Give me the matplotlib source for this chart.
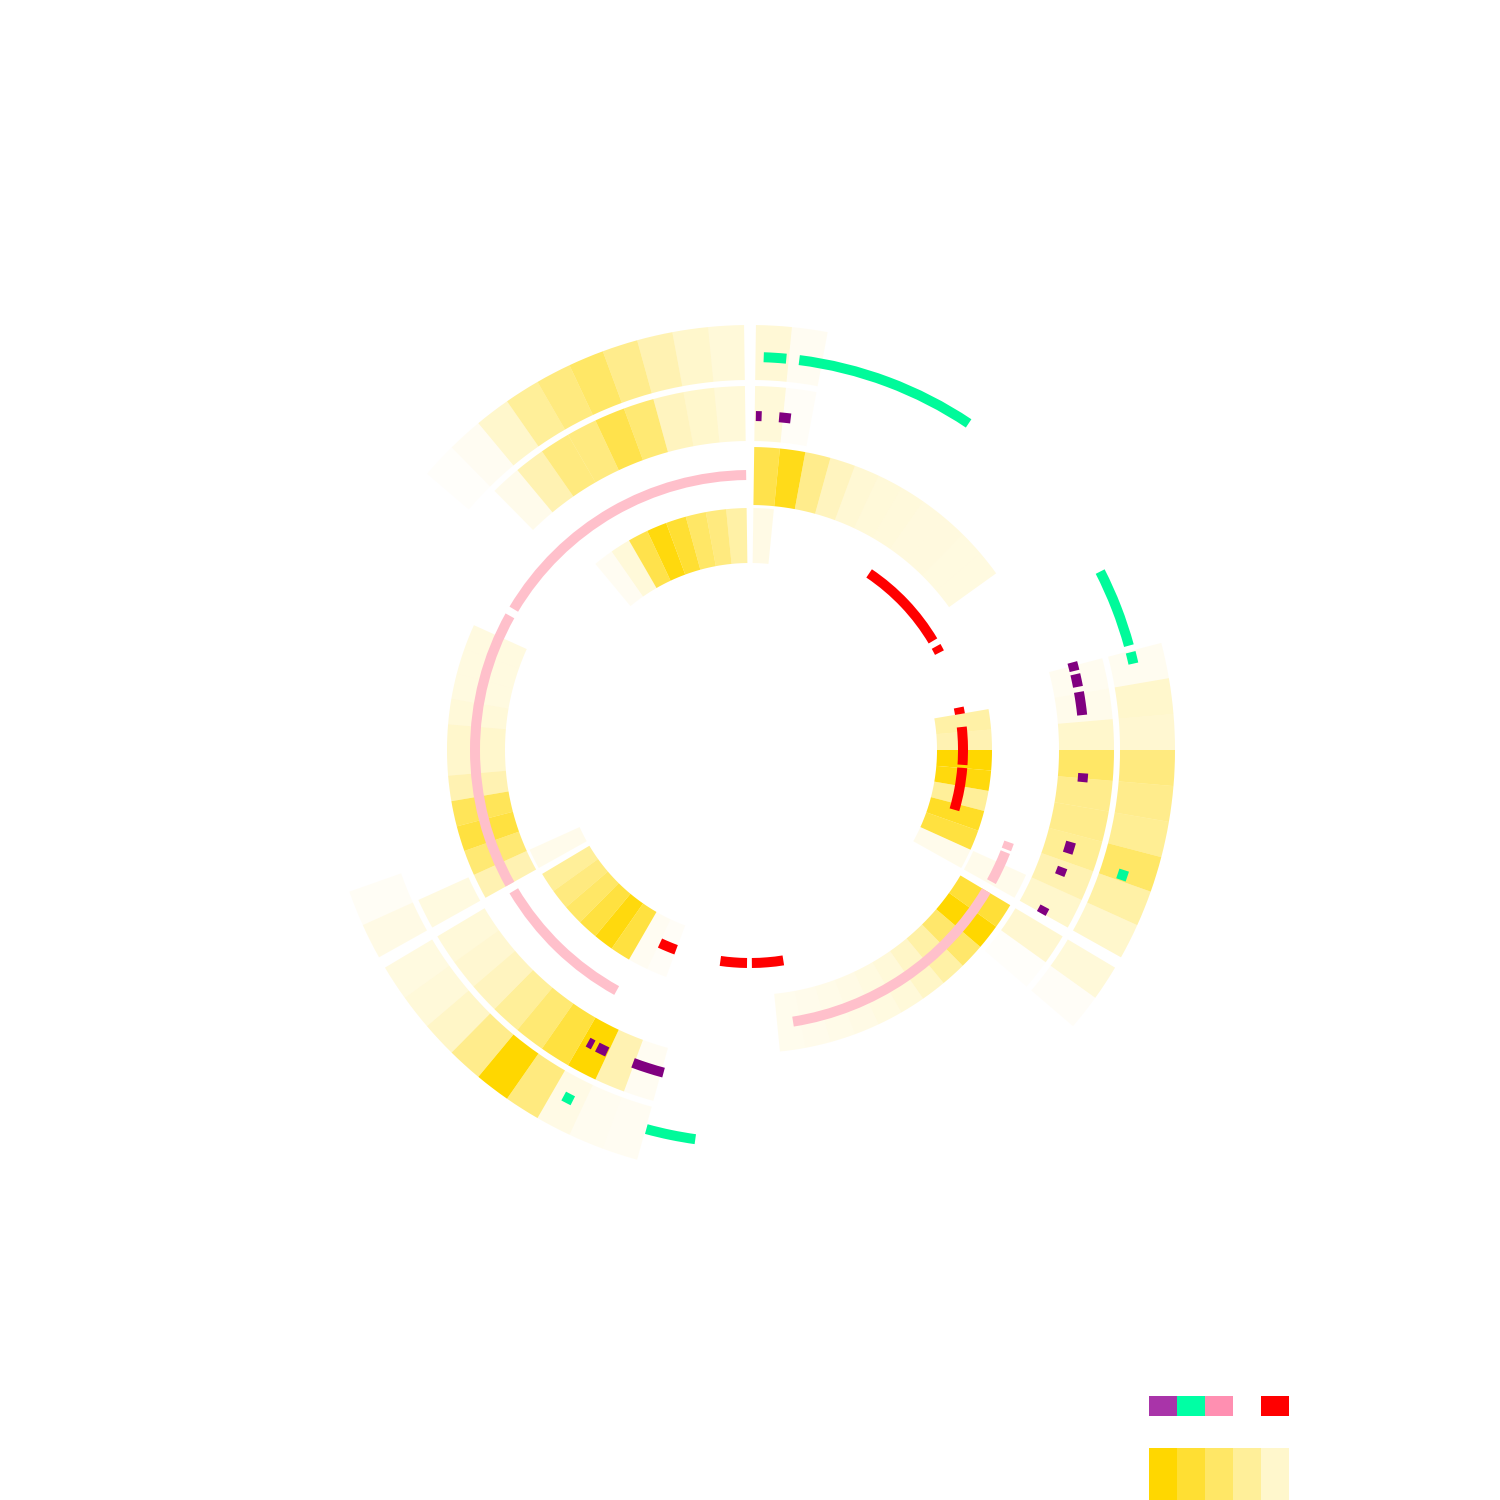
import numpy as np
import matplotlib
matplotlib.use('Agg')
import matplotlib.pyplot as plt
from matplotlib.patches import Rectangle

# six sectors, degrees clockwise from the top
sector_starts = [0, 60, 120, 180, 240, 300]
N = None

# heat rings (inner -> outer), 12 cells per sector, value = gold opacity
ring1 = [
    [0.1, N, N, N, N, N, N, N, N, N, N, N],
    [N, N, N, N, 0.35, 0.3, 1.0, 0.95, 0.4, 0.85, 0.75, 0.08],
    [N, N, N, N, N, N, N, N, N, N, N, N],
    [N, N, N, N, 0.03, 0.05, 0.75, 0.95, 0.75, 0.6, 0.5, 0.4],
    [0.08, N, N, N, N, N, N, N, N, N, N, N],
    [N, N, N, N, 0.05, 0.15, 0.7, 0.95, 0.8, 0.6, 0.5, 0.35],
]
ring2 = [
    [0.7, 0.9, 0.45, 0.25, 0.17, 0.15, 0.14, 0.13, 0.13, 0.12, 0.12, N],
    [N, N, N, N, N, N, N, N, N, N, N, 0.08],
    [0.78, 1.0, 0.58, 0.35, 0.22, 0.15, 0.12, 0.1, 0.09, 0.08, 0.07, N],
    [N, N, N, N, N, N, N, N, N, N, N, N],
    [0.3, 0.55, 0.75, 0.65, 0.3, 0.2, 0.2, 0.15, 0.12, 0.12, 0.12, N],
    [N, N, N, N, N, N, N, N, N, N, N, N],
]
ring3 = [
    [0.15, 0.03, N, N, N, N, N, N, N, N, N, N],
    [N, N, N, 0.06, 0.08, 0.2, 0.6, 0.45, 0.45, 0.42, 0.3, 0.2],
    [0.18, 0.02, N, N, N, N, N, N, N, N, N, N],
    [N, N, N, 0.05, 0.3, 1.0, 0.75, 0.55, 0.4, 0.25, 0.18, 0.15],
    [0.12, N, N, N, N, N, N, N, N, N, N, N],
    [N, N, N, 0.08, 0.3, 0.5, 0.5, 0.7, 0.55, 0.25, 0.2, 0.15],
]
ring4 = [
    [0.16, 0.05, N, N, N, N, N, N, N, N, N, N],
    [N, N, N, 0.06, 0.2, 0.18, 0.5, 0.45, 0.42, 0.6, 0.35, 0.2],
    [0.15, 0.03, N, N, N, N, N, N, N, N, N, N],
    [N, N, N, 0.05, 0.06, 0.1, 0.5, 1.0, 0.45, 0.22, 0.15, 0.12],
    [0.1, 0.04, N, N, N, N, N, N, N, N, N, N],
    [N, N, 0.02, 0.05, 0.2, 0.4, 0.5, 0.6, 0.45, 0.3, 0.2, 0.15],
]

# feature tracks: (start, end) in degrees
red_spans = [(34.0, 59.2), (60.9, 62.8), (78.5, 80.3), (83.8, 94.0), (94.8, 106.3),
             (171.0, 179.5), (180.8, 188.0), (200.3, 205.0)]
pink_spans = [(109.6, 111.2), (111.8, 118.6), (120.8, 171.0), (209.0, 239.2),
              (240.8, 299.2), (300.8, 359.2)]
purple_spans = [(1.0, 2.0), (5.0, 7.0), (74.8, 76.3), (76.9, 79.1), (80.0, 84.0),
                (94.0, 95.5), (106.0, 108.0), (110.6, 112.0), (118.0, 119.3),
                (195.0, 200.5), (205.3, 207.2), (208.0, 209.0)]
green_spans = [(2.0, 5.3), (7.2, 33.8), (63.0, 74.6), (75.6, 77.3), (107.8, 109.3),
               (188.0, 195.3), (206.8, 208.3)]

legend_top = ['#a934a9', '#00ffa4', '#ff8fb1', '#ffffff', '#ff0000']
legend_levels = [1.0, 0.8, 0.6, 0.4, 0.2]

fig = plt.figure(figsize=(15, 15), dpi=100)
ax = fig.add_axes([0, 0, 1, 1], projection='polar')
ax.set_theta_zero_location('N')
ax.set_theta_direction(-1)
ax.set_ylim(0, 750)
ax.axis('off')

gap = 0.8
cell_w = (60 - 2 * gap) / 12
ring_radii = [(187, 242), (245, 303), (309, 364), (370, 425)]

for (r0, r1), ring in zip(ring_radii, [ring1, ring2, ring3, ring4]):
    th, cols = [], []
    for s, row in zip(sector_starts, ring):
        for i, v in enumerate(row):
            if v is None:
                continue
            th.append(s + gap + cell_w * (i + 0.5))
            cols.append((1.0, 0.843, 0.0, v))
    ax.bar(np.deg2rad(th), r1 - r0, width=np.deg2rad(cell_w), bottom=r0,
           color=cols, linewidth=0, align='center')

tracks = [(red_spans, '#ff0000', 208, 218),
          (pink_spans, '#ffc0cb', 270, 280),
          (purple_spans, '#800080', 329, 339),
          (green_spans, '#00fa9a', 388, 398)]
for spans, color, r0, r1 in tracks:
    a = np.array(spans)
    ax.bar(np.deg2rad(a[:, 0]), r1 - r0, width=np.deg2rad(a[:, 1] - a[:, 0]),
           bottom=r0, color=color, linewidth=0, align='edge')

# colour keys at the lower right
sw = 28 / 1500
for k, c in enumerate(legend_top):
    fig.add_artist(Rectangle((1149 / 1500 + k * sw, 1 - 1416 / 1500), sw, 20 / 1500,
                             transform=fig.transFigure, color=c, linewidth=0))
for k, a in enumerate(legend_levels):
    fig.add_artist(Rectangle((1149 / 1500 + k * sw, 0), sw, 52 / 1500,
                             transform=fig.transFigure, color=(1.0, 0.843, 0.0, a), linewidth=0))

fig.savefig('out.png', dpi=100)
